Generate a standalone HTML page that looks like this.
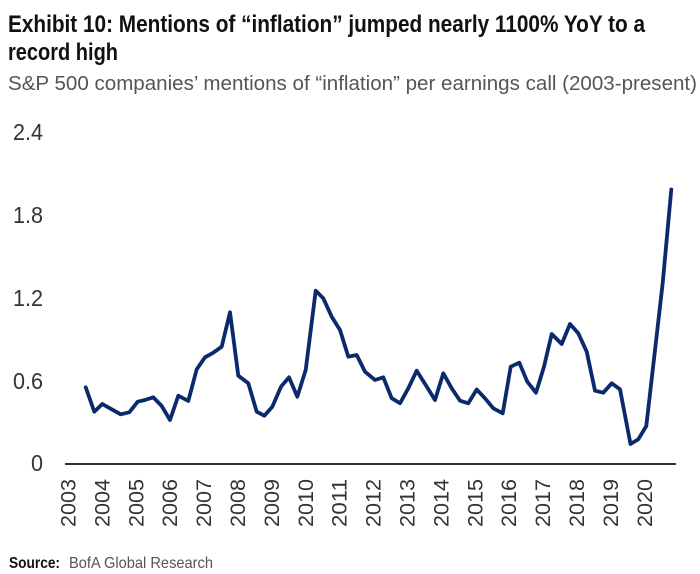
<!DOCTYPE html>
<html>
<head>
<meta charset="utf-8">
<style>
  html, body { margin: 0; padding: 0; background: #ffffff; }
  body { width: 700px; height: 574px; overflow: hidden; }
  svg { display: block; }
  text { font-family: "Liberation Sans", sans-serif; }
</style>
</head>
<body>
<svg width="700" height="574" viewBox="0 0 700 574" xmlns="http://www.w3.org/2000/svg">
  <rect width="700" height="574" fill="#ffffff"/>

  <!-- Title -->
  <text x="8" y="32" font-size="24" font-weight="bold" fill="#111111" textLength="637" lengthAdjust="spacingAndGlyphs">Exhibit 10: Mentions of “inflation” jumped nearly 1100% YoY to a</text>
  <text x="8" y="60" font-size="24" font-weight="bold" fill="#111111" textLength="110" lengthAdjust="spacingAndGlyphs">record high</text>
  <text x="8" y="90" font-size="20" fill="#555555" textLength="689" lengthAdjust="spacingAndGlyphs">S&amp;P 500 companies’ mentions of “inflation” per earnings call (2003-present)</text>

  <!-- Y axis labels -->
  <g font-size="23" fill="#333333" text-anchor="end">
    <text x="43" y="140" textLength="30" lengthAdjust="spacingAndGlyphs">2.4</text>
    <text x="43" y="223" textLength="30" lengthAdjust="spacingAndGlyphs">1.8</text>
    <text x="43" y="306" textLength="30" lengthAdjust="spacingAndGlyphs">1.2</text>
    <text x="43" y="389" textLength="30" lengthAdjust="spacingAndGlyphs">0.6</text>
    <text x="43" y="471" textLength="12" lengthAdjust="spacingAndGlyphs">0</text>
  </g>

  <!-- X axis line -->
  <line x1="65" y1="464" x2="676" y2="464" stroke="#333333" stroke-width="2"/>

  <!-- X axis labels (rotated) -->
  <g font-size="21" fill="#333333" text-anchor="end">
    <text transform="translate(75.5,479) rotate(-90)" textLength="48" lengthAdjust="spacingAndGlyphs">2003</text>
    <text transform="translate(109.4,479) rotate(-90)" textLength="48" lengthAdjust="spacingAndGlyphs">2004</text>
    <text transform="translate(143.3,479) rotate(-90)" textLength="48" lengthAdjust="spacingAndGlyphs">2005</text>
    <text transform="translate(177.2,479) rotate(-90)" textLength="48" lengthAdjust="spacingAndGlyphs">2006</text>
    <text transform="translate(211.1,479) rotate(-90)" textLength="48" lengthAdjust="spacingAndGlyphs">2007</text>
    <text transform="translate(245.0,479) rotate(-90)" textLength="48" lengthAdjust="spacingAndGlyphs">2008</text>
    <text transform="translate(278.9,479) rotate(-90)" textLength="48" lengthAdjust="spacingAndGlyphs">2009</text>
    <text transform="translate(312.8,479) rotate(-90)" textLength="48" lengthAdjust="spacingAndGlyphs">2010</text>
    <text transform="translate(346.7,479) rotate(-90)" textLength="48" lengthAdjust="spacingAndGlyphs">2011</text>
    <text transform="translate(380.6,479) rotate(-90)" textLength="48" lengthAdjust="spacingAndGlyphs">2012</text>
    <text transform="translate(414.5,479) rotate(-90)" textLength="48" lengthAdjust="spacingAndGlyphs">2013</text>
    <text transform="translate(448.4,479) rotate(-90)" textLength="48" lengthAdjust="spacingAndGlyphs">2014</text>
    <text transform="translate(482.3,479) rotate(-90)" textLength="48" lengthAdjust="spacingAndGlyphs">2015</text>
    <text transform="translate(516.2,479) rotate(-90)" textLength="48" lengthAdjust="spacingAndGlyphs">2016</text>
    <text transform="translate(550.1,479) rotate(-90)" textLength="48" lengthAdjust="spacingAndGlyphs">2017</text>
    <text transform="translate(584.0,479) rotate(-90)" textLength="48" lengthAdjust="spacingAndGlyphs">2018</text>
    <text transform="translate(617.9,479) rotate(-90)" textLength="48" lengthAdjust="spacingAndGlyphs">2019</text>
    <text transform="translate(651.8,479) rotate(-90)" textLength="48" lengthAdjust="spacingAndGlyphs">2020</text>
  </g>

  <!-- Data series -->
  <polyline fill="none" stroke="#0b2a6b" stroke-width="3.8" stroke-linejoin="round" stroke-linecap="round"
    points="85.7,387.3 94.3,411.7 102.3,404 111.7,409.3 120.7,414.3 129.3,412.3 137.7,401.7 145,400 153.3,397.3 161.7,406 170,420 178.3,395.7 188.3,401 196.7,369.3 205,357.3 213.3,352.7 221.7,346.7 230,312.3 238.3,375.7 248.3,383.3 256.7,411.7 264.3,415.7 272.3,406.7 281,386.7 289,377.3 297.3,396.7 305.7,370 315.7,290.7 323.3,298.3 331.7,316.7 340,330 348.3,356.7 356.7,355 365,371.7 375,380 383.3,377.3 391.7,398.3 400,403.3 408.3,388.3 416.7,370.7 425.7,385 435,400 443.3,373.3 451.7,388.3 460,400.7 468.3,403.3 476.7,389.5 485,398.3 493.3,408.3 502.7,413.3 510.7,366.7 519.3,362.7 527.3,381.7 536,392.7 544,366.7 551.7,334 561.7,344 570,324 578.3,333.3 586.7,351.7 595,390.7 603.3,392.7 611.7,383.3 620,389.3 630.5,444 638.3,439.3 646.3,426 662.7,283 671.3,189.5"/>

  <!-- Source -->
  <text x="9" y="568" font-size="16" font-weight="bold" fill="#111111" textLength="51" lengthAdjust="spacingAndGlyphs">Source:</text>
  <text x="69" y="568" font-size="16" fill="#555555" textLength="144" lengthAdjust="spacingAndGlyphs">BofA Global Research</text>
</svg>
</body>
</html>
